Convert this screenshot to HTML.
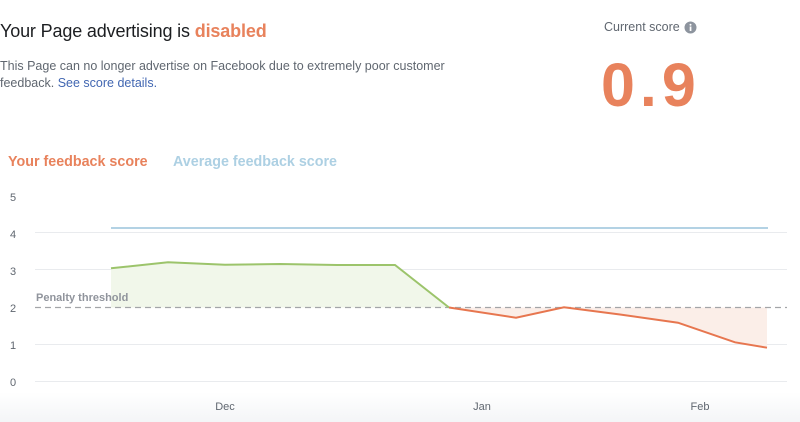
<!DOCTYPE html>
<html><head><meta charset="utf-8">
<style>
html,body{margin:0;padding:0;}
body{width:800px;height:422px;overflow:hidden;position:relative;font-family:"Liberation Sans",Arial,sans-serif;
background:linear-gradient(to bottom,#ffffff 0px,#ffffff 392px,#f4f5f7 422px);}
.t{position:absolute;white-space:nowrap;}
</style></head><body>
<div class="t" style="left:0;top:21px;font-size:18px;color:#1c1e21;letter-spacing:-0.15px;">Your Page advertising is <span style="color:#e8825c;font-weight:bold;">disabled</span></div>
<div class="t" style="left:0;top:58px;font-size:12.5px;line-height:17px;color:#606770;">This Page can no longer advertise on Facebook due to extremely poor customer<br>feedback. <span style="color:#4267b2;">See score details.</span></div>
<div class="t" style="left:604px;top:20px;font-size:12.5px;color:#606770;">Current score</div>
<svg style="position:absolute;left:684px;top:21px" width="13" height="13" viewBox="0 0 13 13"><circle cx="6.5" cy="6.5" r="6" fill="#8d949e"/><rect x="5.7" y="5.5" width="1.7" height="4.5" fill="#fff"/><circle cx="6.5" cy="3.7" r="1" fill="#fff"/></svg>
<div class="t" style="left:601px;top:50px;font-size:61px;font-weight:bold;color:#e8825c;letter-spacing:5px;">0.9</div>
<div class="t" style="left:8px;top:154px;font-size:14.3px;font-weight:bold;color:#e8825c;">Your feedback score</div>
<div class="t" style="left:173px;top:154px;font-size:14.3px;font-weight:bold;color:#add0e3;">Average feedback score</div>
<svg style="position:absolute;left:0;top:0" width="800" height="422">
<g stroke="#e9ebee" stroke-width="1">
<line x1="35" y1="232.5" x2="787" y2="232.5"/>
<line x1="35" y1="269.5" x2="787" y2="269.5"/>
<line x1="35" y1="344.5" x2="787" y2="344.5"/>
<line x1="35" y1="381.5" x2="787" y2="381.5"/>
</g>
<polygon points="111,268.3 168,262.3 225,264.7 280,264 337,265 395,265 449,307.5 111,307.5" fill="#f1f7ea"/>
<polygon points="449,307.5 516,317.7 564,307.3 620,314.5 678,322.7 735,342.3 767,347.7 767,307.5" fill="#fbeee8"/>
<line x1="35" y1="307.5" x2="787" y2="307.5" stroke="#a3a5a8" stroke-width="1.3" stroke-dasharray="6,4"/>
<line x1="111" y1="228" x2="768" y2="228" stroke="#a8cbe0" stroke-width="1.8"/>
<polyline points="111,268.3 168,262.3 225,264.7 280,264 337,265 395,265 449,307.5" fill="none" stroke="#9cc46b" stroke-width="2"/>
<polyline points="449,307.5 516,317.7 564,307.3 620,314.5 678,322.7 735,342.3 767,347.7" fill="none" stroke="#e7764f" stroke-width="2"/>
<g font-family="Liberation Sans,Arial,sans-serif" font-size="11" fill="#606770">
<text x="10" y="201">5</text>
<text x="10" y="238">4</text>
<text x="10" y="275">3</text>
<text x="10" y="312">2</text>
<text x="10" y="349">1</text>
<text x="10" y="386">0</text>
<text x="225" y="410" text-anchor="middle">Dec</text>
<text x="482" y="410" text-anchor="middle">Jan</text>
<text x="700" y="410" text-anchor="middle">Feb</text>
</g>
<text x="36" y="301" font-family="Liberation Sans,Arial,sans-serif" font-size="11" font-weight="bold" fill="#90949c">Penalty threshold</text>
</svg>
</body></html>
